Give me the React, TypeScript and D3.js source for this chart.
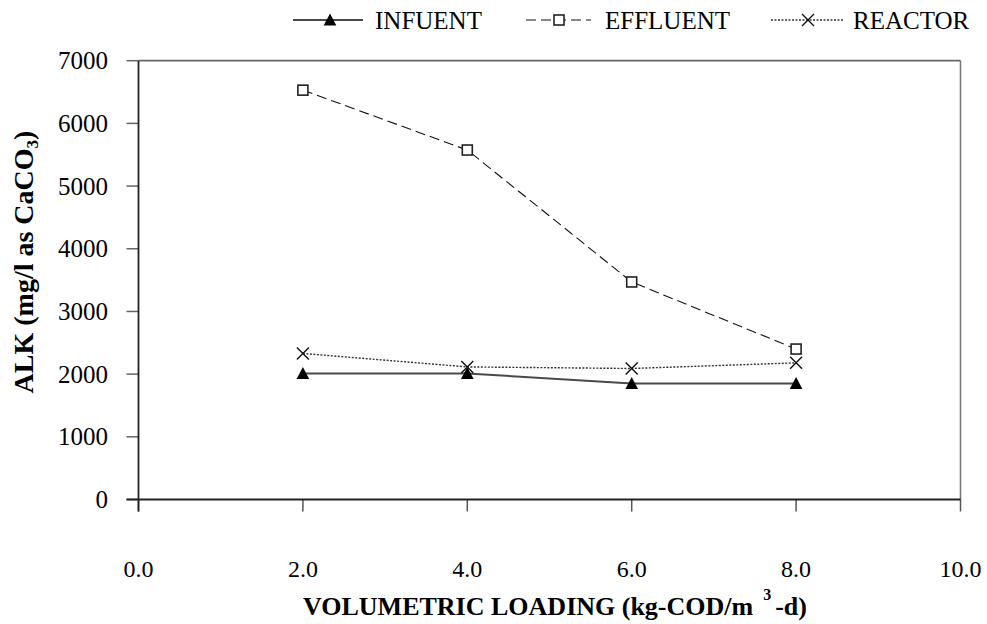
import React from "react";
import * as d3 from "d3";

// Volumetric loading (kg-COD/m3-d)
const loadings = [2.0, 4.0, 6.0, 8.0];
// Alkalinity, mg/l as CaCO3
const influent = [2010, 2010, 1850, 1850];
const effluent = [6530, 5575, 3470, 2400];
const reactor = [2330, 2115, 2090, 2180];

const xTicks = [0, 2, 4, 6, 8, 10];
const yTicks = [0, 1000, 2000, 3000, 4000, 5000, 6000, 7000];

const W = 987;
const H = 624;
const textStyle = { fontFamily: "Liberation Serif" };

const plot = { left: 138.5, right: 960.5, top: 60.7, bottom: 499.5 };

const x = d3.scaleLinear().domain([0, 10]).range([plot.left, plot.right]);
const y = d3.scaleLinear().domain([0, 7000]).range([plot.bottom, plot.top]);

type Pt = [number, number];

function Triangle({ cx, cy }: { cx: number; cy: number }) {
  return <path d={`M${cx},${cy - 6.5}L${cx + 6.3},${cy + 5.5}L${cx - 6.3},${cy + 5.5}Z`} fill="#000" />;
}
function Square({ cx, cy }: { cx: number; cy: number }) {
  return (
    <rect x={cx - 5} y={cy - 5} width={10} height={10} fill="#fff" stroke="#222" strokeWidth={1.6} />
  );
}
function Cross({ cx, cy }: { cx: number; cy: number }) {
  const r = 6;
  return (
    <path
      d={`M${cx - r},${cy - r}L${cx + r},${cy + r}M${cx - r},${cy + r}L${cx + r},${cy - r}`}
      stroke="#111"
      strokeWidth={1.4}
      fill="none"
    />
  );
}

const series = [
  { name: "INFUENT", values: influent, stroke: "#4a4a4a", width: 2, dash: "none", Marker: Triangle },
  { name: "EFFLUENT", values: effluent, stroke: "#111", width: 1.1, dash: "10 5", Marker: Square },
  { name: "REACTOR", values: reactor, stroke: "#333", width: 1.4, dash: "2 1.5", Marker: Cross },
];

const legendPos = [
  { lx0: 293, lx1: 363, mx: 330, tx: 375 },
  { lx0: 526, lx1: 591, mx: 559, tx: 605 },
  { lx0: 771, lx1: 844, mx: 808, tx: 853 },
];

export default function App() {
  const line = d3
    .line<Pt>()
    .x((d) => x(d[0]))
    .y((d) => y(d[1]));

  return (
    <svg width={W} height={H} style={{ position: "absolute", left: 0, top: 0, background: "#fff" }}>
      <rect x={0} y={0} width={W} height={H} fill="#fff" />

      {/* frame */}
      <line x1={plot.left} x2={plot.right} y1={plot.top} y2={plot.top} stroke="#666" strokeWidth={1.8} />
      <line x1={plot.right} x2={plot.right} y1={plot.top} y2={plot.bottom} stroke="#777" strokeWidth={1.6} />

      {/* y ticks */}
      {yTicks.map((t) => (
        <g key={"y" + t}>
          <line x1={plot.left - 12} x2={plot.left} y1={y(t)} y2={y(t)} stroke="#666" strokeWidth={1.5} />
          <text x={108} y={y(t) + 8.5} textAnchor="end" fontSize={25} fill="#000" style={textStyle}>
            {t}
          </text>
        </g>
      ))}

      {/* x ticks */}
      {xTicks.map((t) => (
        <g key={"x" + t}>
          <line x1={x(t)} x2={x(t)} y1={plot.bottom} y2={plot.bottom + 12} stroke="#555" strokeWidth={1.5} />
          <text x={x(t)} y={577} textAnchor="middle" fontSize={24} fill="#000" style={textStyle}>
            {t.toFixed(1)}
          </text>
        </g>
      ))}

      {/* axes */}
      <line x1={plot.left} x2={plot.left} y1={plot.top} y2={plot.bottom + 12} stroke="#222" strokeWidth={1.8} />
      <line x1={plot.left - 12} x2={plot.right} y1={plot.bottom} y2={plot.bottom} stroke="#222" strokeWidth={2} />

      {/* series */}
      {series.map((s) => {
        const pts: Pt[] = loadings.map((l, i) => [l, s.values[i]]);
        return (
          <g key={s.name}>
            <path
              d={line(pts) || ""}
              fill="none"
              stroke={s.stroke}
              strokeWidth={s.width}
              strokeDasharray={s.dash}
            />
            {pts.map((p, i) => (
              <s.Marker key={i} cx={x(p[0])} cy={y(p[1])} />
            ))}
          </g>
        );
      })}

      {/* legend */}
      {series.map((s, i) => {
        const lp = legendPos[i];
        return (
          <g key={"lg" + s.name}>
            <line
              x1={lp.lx0}
              x2={lp.lx1}
              y1={20}
              y2={20}
              stroke={s.stroke}
              strokeWidth={s.width}
              strokeDasharray={s.dash}
            />
            <s.Marker cx={lp.mx} cy={20} />
            <text x={lp.tx} y={29} fontSize={25} fill="#000" style={textStyle}>
              {s.name}
            </text>
          </g>
        );
      })}

      {/* axis titles */}
      <text
        transform="translate(33,262) rotate(-90)"
        textAnchor="middle"
        fontSize={28}
        fontWeight="bold"
        fill="#000"
        style={textStyle}
      >
        ALK (mg/l as CaCO
        <tspan fontSize={17} dy={5}>
          3
        </tspan>
        <tspan dy={-5}>)</tspan>
      </text>
      <text x={555} y={615} textAnchor="middle" fontSize={26} fontWeight="bold" fill="#000" style={textStyle}>
        VOLUMETRIC LOADING (kg-COD/m
        <tspan fontSize={16} dx={10} dy={-15}>
          3
        </tspan>
        <tspan dx={4} dy={15}>
          -d)
        </tspan>
      </text>
    </svg>
  );
}
